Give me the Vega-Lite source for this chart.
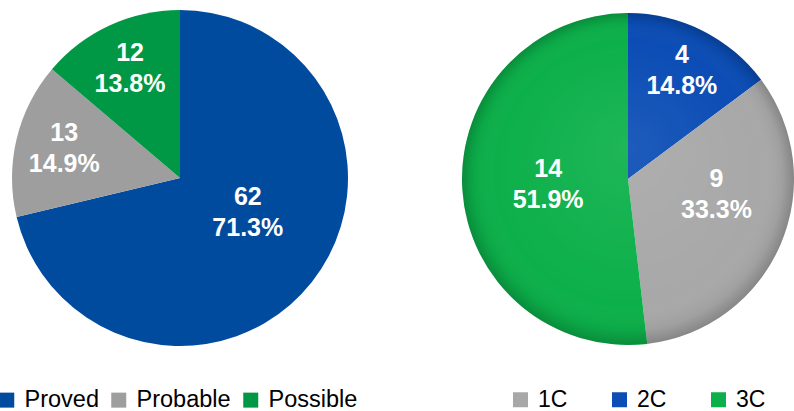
{
  "$schema": "https://vega.github.io/schema/vega-lite/v6.json",
  "padding": 0,
  "background": "white",
  "spacing": 102,
  "config": {"view": {"stroke": null}},
  "datasets": {
    "left": [
      {"cat": "Proved", "idx": 1, "value": 62, "pct": 0.713},
      {"cat": "Probable", "idx": 2, "value": 13, "pct": 0.149},
      {"cat": "Possible", "idx": 3, "value": 12, "pct": 0.138}
    ],
    "right": [
      {"cat": "2C", "idx": 1, "value": 4, "pct": 0.148},
      {"cat": "1C", "idx": 2, "value": 9, "pct": 0.333},
      {"cat": "3C", "idx": 3, "value": 14, "pct": 0.519}
    ]
  },
  "resolve": {"scale": {"color": "independent", "theta": "independent"}, "legend": {"color": "independent"}},
  "hconcat": [
    {
      "width": 360,
      "height": 356,
      "data": {"name": "left"},
      "transform": [{"calculate": "datum.value + '\\n' + format(datum.pct, '.1%')", "as": "label"}],
      "layer": [
        {
          "mark": {"type": "arc", "outerRadius": 168},
          "encoding": {
            "theta": {"field": "value", "type": "quantitative", "stack": true},
            "order": {"field": "idx", "type": "quantitative"},
            "color": {
              "field": "cat", "type": "nominal",
              "scale": {"domain": ["Proved", "Probable", "Possible"], "range": ["#004B9E", "#9E9E9E", "#009845"]},
              "legend": {
                "orient": "none", "legendX": 0, "legendY": 388, "direction": "horizontal", "title": null,
                "symbolType": "square", "symbolSize": 225, "symbolStrokeWidth": 0, "symbolOpacity": 1, "symbolOffset": -5,
                "labelFont": "Liberation Sans", "labelFontSize": 23.5, "labelColor": "#000000",
                "columnPadding": 12, "labelOffset": 6, "padding": 0
              }
            }
          }
        },
        {
          "mark": {"type": "text", "radius": 119, "dy": -17, "font": "Liberation Sans", "fontWeight": "bold", "fontSize": 25, "fill": "white", "lineBreak": "\n", "lineHeight": 31, "align": "center", "baseline": "middle"},
          "encoding": {
            "theta": {"field": "value", "type": "quantitative", "stack": true},
            "order": {"field": "idx", "type": "quantitative"},
            "text": {"condition": {"test": "datum.cat !== 'Proved'", "field": "label"}, "value": ""}
          }
        },
        {
          "mark": {"type": "text", "radius": 80, "dx": 5, "dy": -31, "font": "Liberation Sans", "fontWeight": "bold", "fontSize": 25, "fill": "white", "lineBreak": "\n", "lineHeight": 31, "align": "center", "baseline": "middle"},
          "encoding": {
            "theta": {"field": "value", "type": "quantitative", "stack": true},
            "order": {"field": "idx", "type": "quantitative"},
            "text": {"condition": {"test": "datum.cat === 'Proved'", "field": "label"}, "value": ""}
          }
        }
      ]
    },
    {
      "width": 332,
      "height": 358,
      "data": {"name": "right"},
      "transform": [{"calculate": "datum.value + '\\n' + format(datum.pct, '.1%')", "as": "label"}],
      "layer": [
        {
          "mark": {"type": "arc", "outerRadius": 166},
          "encoding": {
            "theta": {"field": "value", "type": "quantitative", "stack": true},
            "order": {"field": "idx", "type": "quantitative"},
            "color": {
              "field": "cat", "type": "nominal",
              "scale": {"domain": ["1C", "2C", "3C"], "range": ["#A8A8A8", "#0B4DB5", "#0CB04A"]},
              "legend": {
                "orient": "none", "legendX": 47, "legendY": 388, "direction": "horizontal", "title": null,
                "symbolType": "square", "symbolSize": 225, "symbolStrokeWidth": 0, "symbolOpacity": 1,
                "labelFont": "Liberation Sans", "labelFontSize": 23, "labelColor": "#000000",
                "columnPadding": 40, "labelOffset": 6, "padding": 0
              }
            }
          }
        },
        {
          "transform": [{"aggregate": [{"op": "sum", "field": "value", "as": "total"}]}],
          "mark": {
            "type": "arc", "outerRadius": 166,
            "fill": {
              "gradient": "radial", "x1": 0.5, "y1": 0.4, "r1": 0, "x2": 0.5, "y2": 0.5, "r2": 0.5,
              "stops": [
                {"offset": 0, "color": "rgba(255,255,255,0.08)"},
                {"offset": 0.8, "color": "rgba(255,255,255,0)"},
                {"offset": 0.93, "color": "rgba(0,0,0,0.05)"},
                {"offset": 1, "color": "rgba(0,0,0,0.2)"}
              ]
            }
          },
          "encoding": {"theta": {"field": "total", "type": "quantitative"}}
        },
        {
          "mark": {"type": "text", "radius": 120, "dy": -17, "font": "Liberation Sans", "fontWeight": "bold", "fontSize": 25, "fill": "white", "lineBreak": "\n", "lineHeight": 31, "align": "center", "baseline": "middle"},
          "encoding": {
            "theta": {"field": "value", "type": "quantitative", "stack": true},
            "order": {"field": "idx", "type": "quantitative"},
            "text": {"condition": {"test": "datum.cat === '2C'", "field": "label"}, "value": ""}
          }
        },
        {
          "mark": {"type": "text", "radius": 92, "dx": 4, "dy": -36, "font": "Liberation Sans", "fontWeight": "bold", "fontSize": 25, "fill": "white", "lineBreak": "\n", "lineHeight": 31, "align": "center", "baseline": "middle"},
          "encoding": {
            "theta": {"field": "value", "type": "quantitative", "stack": true},
            "order": {"field": "idx", "type": "quantitative"},
            "text": {"condition": {"test": "datum.cat === '1C'", "field": "label"}, "value": ""}
          }
        },
        {
          "mark": {"type": "text", "radius": 80, "dy": -15, "font": "Liberation Sans", "fontWeight": "bold", "fontSize": 25, "fill": "white", "lineBreak": "\n", "lineHeight": 31, "align": "center", "baseline": "middle"},
          "encoding": {
            "theta": {"field": "value", "type": "quantitative", "stack": true},
            "order": {"field": "idx", "type": "quantitative"},
            "text": {"condition": {"test": "datum.cat === '3C'", "field": "label"}, "value": ""}
          }
        }
      ]
    }
  ]
}
